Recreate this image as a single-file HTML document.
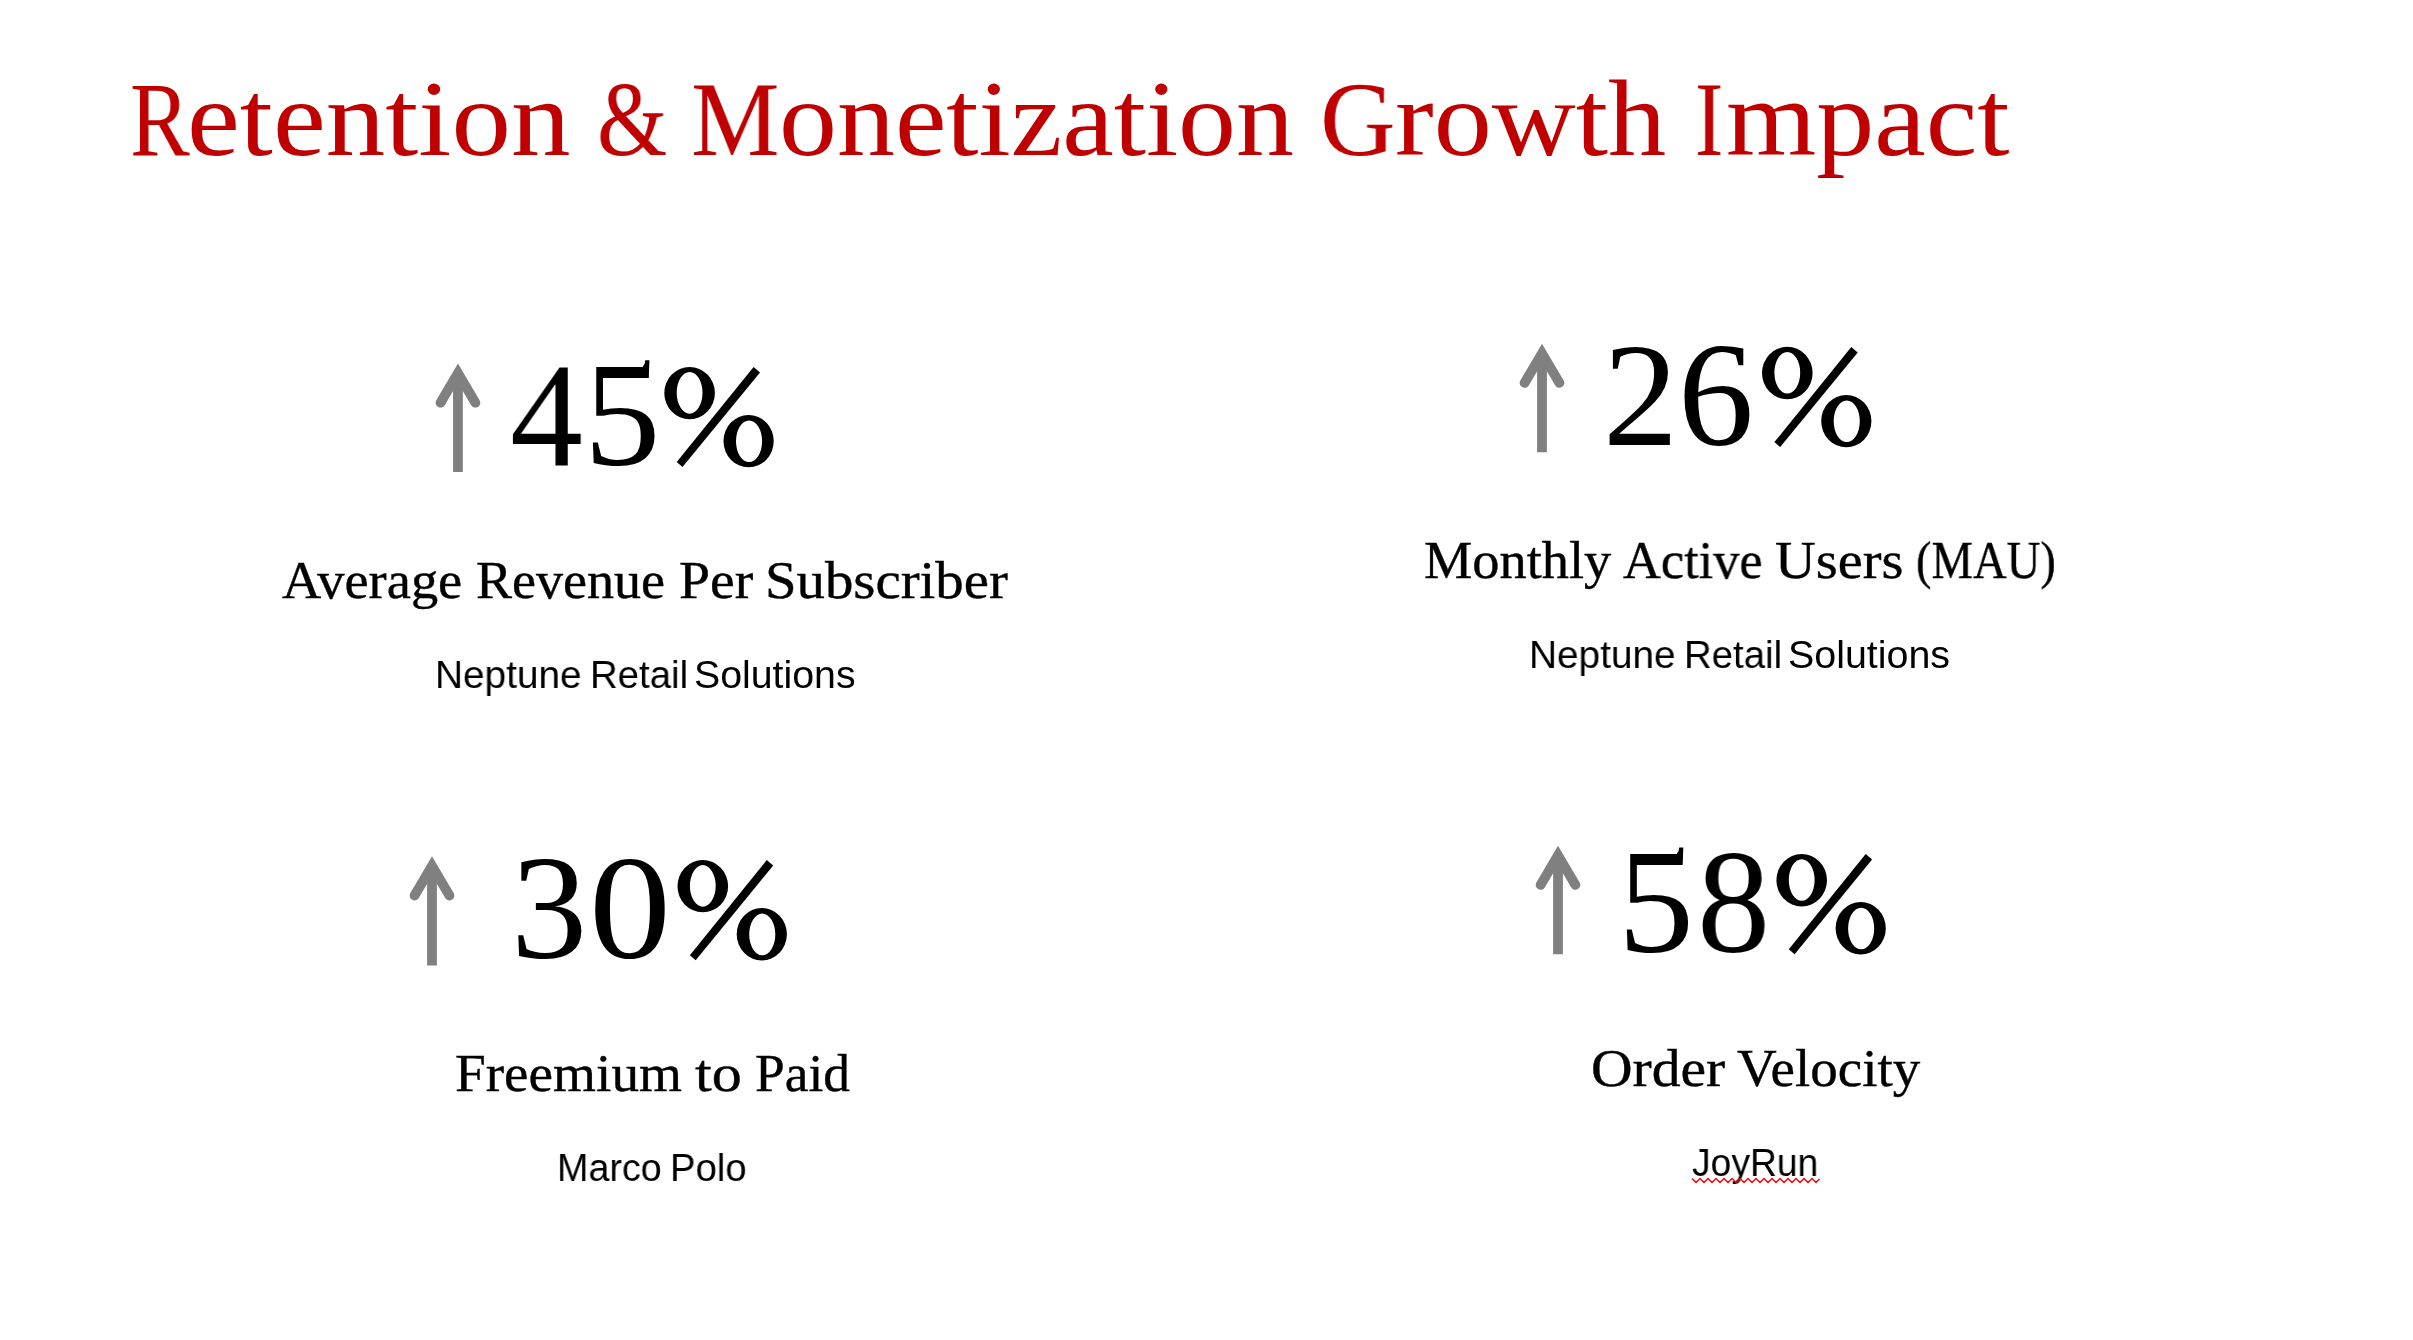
<!DOCTYPE html>
<html><head><meta charset="utf-8"><title>Retention &amp; Monetization Growth Impact</title>
<style>
html,body{margin:0;padding:0;background:#fff;}
body{width:2413px;height:1340px;position:relative;overflow:hidden;}
.t{position:absolute;line-height:1;white-space:nowrap;transform-origin:0 0;will-change:transform;}
svg{position:absolute;left:0;top:0;}
</style></head><body>
<div class="t" style="left:129.58px;top:66.2px;font-family:'Liberation Serif',serif;font-size:106.1px;color:#C00000;transform:scaleX(0.8399)">R</div>
<div class="t" style="left:596.594px;top:65.91px;font-family:'Liberation Serif',serif;font-size:106.1px;color:#C00000;transform:scaleX(0.85136)">&amp;</div>
<div class="t" style="left:691.039px;top:65.685px;font-family:'Liberation Serif',serif;font-size:106.1px;color:#C00000;transform:scaleX(0.93767)">M</div>
<div class="t" style="left:1320.195px;top:65.685px;font-family:'Liberation Serif',serif;font-size:106.1px;color:#C00000;transform:scaleX(0.98663)">G</div>
<div class="t" style="left:1695.0px;top:66.2px;font-family:'Liberation Serif',serif;font-size:106.1px;color:#C00000;transform:scaleX(0.8)">I</div>
<div class="t" style="left:187.075px;top:64.4px;font-family:'Liberation Serif',serif;font-size:108.6px;color:#C00000;transform:scaleX(1.09611)">etention</div>
<div class="t" style="left:779.033px;top:64.2px;font-family:'Liberation Serif',serif;font-size:108.6px;color:#C00000;transform:scaleX(1.06747)">onetization</div>
<div class="t" style="left:1395.393px;top:64.4px;font-family:'Liberation Serif',serif;font-size:108.6px;color:#C00000;transform:scaleX(1.0699)">rowth</div>
<div class="t" style="left:1725.992px;top:64.4px;font-family:'Liberation Serif',serif;font-size:108.6px;color:#C00000;transform:scaleX(1.06864)">mpact</div>
<div class="t" style="left:510.296px;top:341.0px;font-family:'Liberation Serif',serif;font-size:148.9px;color:#000;transform:scaleX(0.98001)">4</div>
<div class="t" style="left:584.276px;top:341.0px;font-family:'Liberation Serif',serif;font-size:148.9px;color:#000;transform:scaleX(1.02754)">5</div>
<div class="t" style="left:281.542px;top:554.0px;font-family:'Liberation Serif',serif;font-size:52.7px;color:#000;transform:scaleX(1.03268);-webkit-text-stroke:0.4px #000">Average</div>
<div class="t" style="left:476.098px;top:554.0px;font-family:'Liberation Serif',serif;font-size:52.7px;color:#000;transform:scaleX(1.02593);-webkit-text-stroke:0.4px #000">Revenue</div>
<div class="t" style="left:678.787px;top:554.0px;font-family:'Liberation Serif',serif;font-size:52.7px;color:#000;transform:scaleX(1.05678);-webkit-text-stroke:0.4px #000">Per</div>
<div class="t" style="left:765.158px;top:554.0px;font-family:'Liberation Serif',serif;font-size:52.7px;color:#000;transform:scaleX(1.07766);-webkit-text-stroke:0.4px #000">Subscriber</div>
<div class="t" style="left:434.984px;top:655.2px;font-family:'Liberation Sans',sans-serif;font-size:39.2px;color:#000;transform:scaleX(0.98991)">Neptune</div>
<div class="t" style="left:590.016px;top:655.2px;font-family:'Liberation Sans',sans-serif;font-size:39.2px;color:#000;transform:scaleX(0.97955)">Retail</div>
<div class="t" style="left:694.099px;top:655.2px;font-family:'Liberation Sans',sans-serif;font-size:39.2px;color:#000;transform:scaleX(1.00224)">Solutions</div>
<div class="t" style="left:1603.358px;top:321.0px;font-family:'Liberation Serif',serif;font-size:148.9px;color:#000;transform:scaleX(1.00936)">2</div>
<div class="t" style="left:1677.696px;top:321.0px;font-family:'Liberation Serif',serif;font-size:148.9px;color:#000;transform:scaleX(1.01919)">6</div>
<div class="t" style="left:1424.014px;top:534.0px;font-family:'Liberation Serif',serif;font-size:52.7px;color:#000;transform:scaleX(1.03148);-webkit-text-stroke:0.4px #000">Monthly</div>
<div class="t" style="left:1622.85px;top:534.0px;font-family:'Liberation Serif',serif;font-size:52.7px;color:#000;transform:scaleX(0.99439);-webkit-text-stroke:0.4px #000">Active</div>
<div class="t" style="left:1774.827px;top:534.0px;font-family:'Liberation Serif',serif;font-size:52.7px;color:#000;transform:scaleX(1.07042);-webkit-text-stroke:0.4px #000">Users</div>
<div class="t" style="left:1916.331px;top:534.0px;font-family:'Liberation Serif',serif;font-size:52.7px;color:#000;transform:scaleX(0.88439);-webkit-text-stroke:0.4px #000">(MAU)</div>
<div class="t" style="left:1528.785px;top:635.2px;font-family:'Liberation Sans',sans-serif;font-size:39.2px;color:#000;transform:scaleX(0.98991)">Neptune</div>
<div class="t" style="left:1683.816px;top:635.2px;font-family:'Liberation Sans',sans-serif;font-size:39.2px;color:#000;transform:scaleX(0.97955)">Retail</div>
<div class="t" style="left:1787.887px;top:635.2px;font-family:'Liberation Sans',sans-serif;font-size:39.2px;color:#000;transform:scaleX(1.00498)">Solutions</div>
<div class="t" style="left:511.022px;top:834.0px;font-family:'Liberation Serif',serif;font-size:148.9px;color:#000;transform:scaleX(1.02481)">3</div>
<div class="t" style="left:589.471px;top:834.0px;font-family:'Liberation Serif',serif;font-size:148.9px;color:#000;transform:scaleX(1.10057)">0</div>
<div class="t" style="left:454.846px;top:1047.0px;font-family:'Liberation Serif',serif;font-size:52.7px;color:#000;transform:scaleX(1.04806);-webkit-text-stroke:0.4px #000">Freemium</div>
<div class="t" style="left:695.44px;top:1047.0px;font-family:'Liberation Serif',serif;font-size:52.7px;color:#000;transform:scaleX(1.14037);-webkit-text-stroke:0.4px #000">to</div>
<div class="t" style="left:754.578px;top:1047.0px;font-family:'Liberation Serif',serif;font-size:52.7px;color:#000;transform:scaleX(1.01318);-webkit-text-stroke:0.4px #000">Paid</div>
<div class="t" style="left:556.919px;top:1148.0px;font-family:'Liberation Sans',sans-serif;font-size:39.2px;color:#000;transform:scaleX(0.96177)">Marco</div>
<div class="t" style="left:670.226px;top:1148.0px;font-family:'Liberation Sans',sans-serif;font-size:39.2px;color:#000;transform:scaleX(0.97532)">Polo</div>
<div class="t" style="left:1618.004px;top:828.0px;font-family:'Liberation Serif',serif;font-size:148.9px;color:#000;transform:scaleX(1.02111)">5</div>
<div class="t" style="left:1697.496px;top:828.0px;font-family:'Liberation Serif',serif;font-size:148.9px;color:#000;transform:scaleX(0.98121)">8</div>
<div class="t" style="left:1591.14px;top:1042.0px;font-family:'Liberation Serif',serif;font-size:52.7px;color:#000;transform:scaleX(1.09279);-webkit-text-stroke:0.4px #000">Order</div>
<div class="t" style="left:1736.86px;top:1042.0px;font-family:'Liberation Serif',serif;font-size:52.7px;color:#000;transform:scaleX(1.04352);-webkit-text-stroke:0.4px #000">Velocity</div>
<div class="t" style="left:1692.342px;top:1143.0px;font-family:'Liberation Sans',sans-serif;font-size:39.2px;color:#000;transform:scaleX(0.95053)">JoyRun</div>
<svg width="2413" height="1340" viewBox="0 0 2413 1340">
<path d="M440.50 402.70 L457.95 373.15 L475.40 402.70" fill="none" stroke="#808080" stroke-width="9.8" stroke-linejoin="miter" stroke-miterlimit="10" stroke-linecap="round"/><path d="M457.95 373.15 L457.95 472.10" stroke="#808080" stroke-width="9.8" stroke-linecap="butt"/>
<path d="M1524.55 382.90 L1542.00 353.35 L1559.45 382.90" fill="none" stroke="#808080" stroke-width="9.8" stroke-linejoin="miter" stroke-miterlimit="10" stroke-linecap="round"/><path d="M1542.00 353.35 L1542.00 452.30" stroke="#808080" stroke-width="9.8" stroke-linecap="butt"/>
<path d="M414.55 895.50 L432.00 865.95 L449.45 895.50" fill="none" stroke="#808080" stroke-width="9.8" stroke-linejoin="miter" stroke-miterlimit="10" stroke-linecap="round"/><path d="M432.00 865.95 L432.00 965.40" stroke="#808080" stroke-width="9.8" stroke-linecap="butt"/>
<path d="M1540.55 884.90 L1558.00 855.35 L1575.45 884.90" fill="none" stroke="#808080" stroke-width="9.8" stroke-linejoin="miter" stroke-miterlimit="10" stroke-linecap="round"/><path d="M1558.00 855.35 L1558.00 954.30" stroke="#808080" stroke-width="9.8" stroke-linecap="butt"/>
<polyline points="1692.0,1178.5 1696.0,1182.5 1700.0,1178.5 1704.0,1182.5 1708.0,1178.5 1712.0,1182.5 1716.0,1178.5 1720.0,1182.5 1724.0,1178.5 1728.0,1182.5 1732.0,1178.5 1736.0,1182.5 1740.0,1178.5 1744.0,1182.5 1748.0,1178.5 1752.0,1182.5 1756.0,1178.5 1760.0,1182.5 1764.0,1178.5 1768.0,1182.5 1772.0,1178.5 1776.0,1182.5 1780.0,1178.5 1784.0,1182.5 1788.0,1178.5 1792.0,1182.5 1796.0,1178.5 1800.0,1182.5 1804.0,1178.5 1808.0,1182.5 1812.0,1178.5 1816.0,1182.5 1819.5,1179.0" fill="none" stroke="#FF0000" stroke-width="1.4" stroke-linejoin="miter"/>
<path d="M664.30 393.05a25.30 26.15 0 1 0 50.60 0a25.30 26.15 0 1 0 -50.60 0ZM676.70 392.80a12.90 20.80 0 1 0 25.80 0a12.90 20.80 0 1 0 -25.80 0ZM723.50 441.10a25.10 26.20 0 1 0 50.20 0a25.10 26.20 0 1 0 -50.20 0ZM736.00 441.30a13.05 20.80 0 1 0 26.10 0a13.05 20.80 0 1 0 -26.10 0Z" fill="#000" fill-rule="evenodd"/><path d="M753.60 366.90 L760.00 372.40 L682.50 467.10 L676.70 462.10Z" fill="#000"/>
<path d="M1762.00 373.05a25.30 26.15 0 1 0 50.60 0a25.30 26.15 0 1 0 -50.60 0ZM1774.40 372.80a12.90 20.80 0 1 0 25.80 0a12.90 20.80 0 1 0 -25.80 0ZM1821.20 421.10a25.10 26.20 0 1 0 50.20 0a25.10 26.20 0 1 0 -50.20 0ZM1833.70 421.30a13.05 20.80 0 1 0 26.10 0a13.05 20.80 0 1 0 -26.10 0Z" fill="#000" fill-rule="evenodd"/><path d="M1851.30 346.90 L1857.70 352.40 L1780.20 447.10 L1774.40 442.10Z" fill="#000"/>
<path d="M677.50 886.15a25.30 26.15 0 1 0 50.60 0a25.30 26.15 0 1 0 -50.60 0ZM689.90 885.90a12.90 20.80 0 1 0 25.80 0a12.90 20.80 0 1 0 -25.80 0ZM736.70 934.20a25.10 26.20 0 1 0 50.20 0a25.10 26.20 0 1 0 -50.20 0ZM749.20 934.40a13.05 20.80 0 1 0 26.10 0a13.05 20.80 0 1 0 -26.10 0Z" fill="#000" fill-rule="evenodd"/><path d="M766.80 860.00 L773.20 865.50 L695.70 960.20 L689.90 955.20Z" fill="#000"/>
<path d="M1776.40 880.25a25.30 26.15 0 1 0 50.60 0a25.30 26.15 0 1 0 -50.60 0ZM1788.80 880.00a12.90 20.80 0 1 0 25.80 0a12.90 20.80 0 1 0 -25.80 0ZM1835.60 928.30a25.10 26.20 0 1 0 50.20 0a25.10 26.20 0 1 0 -50.20 0ZM1848.10 928.50a13.05 20.80 0 1 0 26.10 0a13.05 20.80 0 1 0 -26.10 0Z" fill="#000" fill-rule="evenodd"/><path d="M1865.70 854.10 L1872.10 859.60 L1794.60 954.30 L1788.80 949.30Z" fill="#000"/>
<path d="M636.00 369.40 Q645.00 368.60 645.30 360.30 L649.40 360.30 L648.80 377.90 L636.00 377.90 Z" fill="#000"/>
<path d="M1669.90 856.60 Q1678.90 855.80 1679.20 847.50 L1683.30 847.50 L1682.70 865.10 L1669.90 865.10 Z" fill="#000"/>
</svg>
</body></html>
